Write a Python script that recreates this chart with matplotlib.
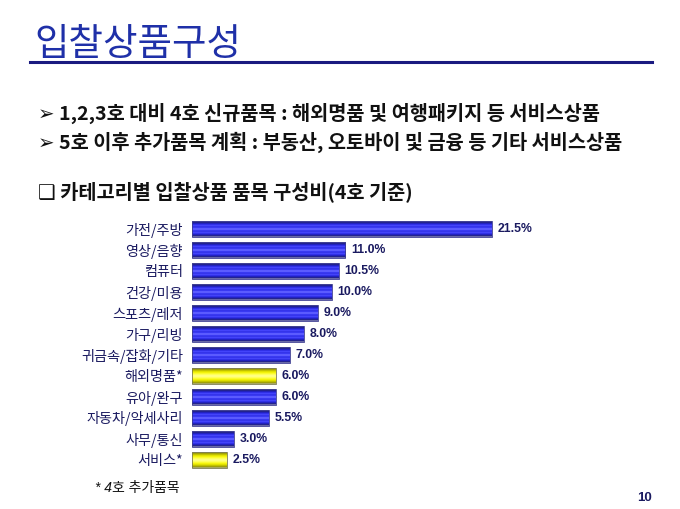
import numpy as np
import matplotlib
matplotlib.use("Agg")
import matplotlib.pyplot as plt
from matplotlib.colors import to_rgb

plt.rcParams['font.family'] = ['Noto Sans CJK KR', 'DejaVu Sans']

categories = ['가전/주방', '영상/음향', '컴퓨터', '건강/미용', '스포츠/레저', '가구/리빙',
              '귀금속/잡화/기타', '해외명품*', '유아/완구', '자동차/악세사리', '사무/통신', '서비스*']
values = [21.5, 11.0, 10.5, 10.0, 9.0, 8.0, 7.0, 6.0, 6.0, 5.5, 3.0, 2.5]
value_labels = ['21.5%', '11.0%', '10.5%', '10.0%', '9.0%', '8.0%', '7.0%', '6.0%', '6.0%', '5.5%', '3.0%', '2.5%']
is_new = [False, False, False, False, False, False, False, True, False, False, False, True]

title = '입찰상품구성'
bullet1 = '➢ 1,2,3호 대비 4호 신규품목 : 해외명품 및 여행패키지 등 서비스상품'
bullet2 = '➢ 5호 이후 추가품목 계획 : 부동산, 오토바이 및 금융 등 기타 서비스상품'
subtitle = '❑ 카테고리별 입찰상품 품목 구성비(4호 기준)'
footnote = '* 4호 추가품목'
page_no = '10'

W, H = 680, 510
fig = plt.figure(figsize=(W / 100, H / 100), dpi=100)
fig.patch.set_facecolor('white')

def fy(py):
    return 1 - py / H

def fx(px):
    return px / W

# Title and underline
fig.text(fx(34), fy(44), title, fontsize=27, color='#1f30a8', va='center', ha='left')
fig.add_artist(plt.Line2D([fx(30), fx(652)], [fy(63), fy(63)], color='#1a1a80', lw=2.2))

txt_kw = dict(fontsize=14.2, color='#111111', va='center', ha='left', fontweight='bold')
fig.text(fx(38), fy(113), bullet1, **txt_kw)
fig.text(fx(38), fy(142), bullet2, **txt_kw)
fig.text(fx(38), fy(192), subtitle, **txt_kw)

# Chart axes
px_per_unit = 300 / 21.5
x_max = 30
ax_left, ax_w = 192, x_max * px_per_unit
row = 21
top_px = 230 - row / 2
bot_px = 461 + row / 2
ax = fig.add_axes([fx(ax_left), fy(bot_px), ax_w / W, (bot_px - top_px) / H])
ax.set_axis_off()

ypos = np.arange(len(categories))
bars = ax.barh(ypos, values, height=0.72, color='none',
               edgecolor='none', linewidth=0)

blue_prof = ['#6a6aa8', '#1c1c8c', '#2424c8', '#3434f0', '#4a4aff', '#2a2ae0', '#4444ff',
             '#7070ff', '#4444ff', '#2a2ae0', '#4a4aff', '#3434f0', '#2424c8', '#1c1c8c', '#6a6aa8']
yellow_prof = ['#a8a860', '#a0a000', '#c8c800', '#e8e800', '#f8f810', '#ffff40', '#ffff70',
               '#ffff90', '#ffff70', '#ffff40', '#f8f810', '#e8e800', '#c8c800', '#a0a000', '#a8a860']

for patch, new in zip(bars.patches, is_new):
    prof = yellow_prof if new else blue_prof
    img = np.array([[to_rgb(c)] for c in prof])
    x0, y0 = patch.get_x(), patch.get_y()
    w, h = patch.get_width(), patch.get_height()
    ax.imshow(img, extent=(x0, x0 + w, y0 + h, y0), aspect='auto',
              interpolation='bilinear', zorder=2)
    ax.add_patch(plt.Rectangle((x0, y0), w, h, fill=False,
                               edgecolor='#7a7a50' if new else '#3a3a90', lw=0.6, zorder=3))

ax.set_xlim(0, x_max)
ax.set_ylim(len(categories) - 0.5, -0.5)

for yi, v, lab, cat in zip(ypos, values, value_labels, categories):
    ax.text(v + 6 / px_per_unit, yi - 0.05, lab, fontsize=8.8, fontweight='bold',
            color='#1a1a60', va='center', ha='left', family=['Liberation Sans', 'DejaVu Sans'])
    ax.text(-9 / px_per_unit, yi, cat, fontsize=10.2, color='#1a1a60', va='center', ha='right',
            clip_on=False)

fig.text(fx(95), fy(488), footnote, fontsize=10, color='#111111', style='italic',
         va='center', ha='left', family=['Liberation Sans', 'Noto Sans CJK KR'])
fig.text(fx(652), fy(498), page_no, fontsize=9.5, color='#1a1a60', fontweight='bold',
         va='center', ha='right', family=['Liberation Sans'])

fig.savefig('out.png', dpi=100, facecolor='white')
